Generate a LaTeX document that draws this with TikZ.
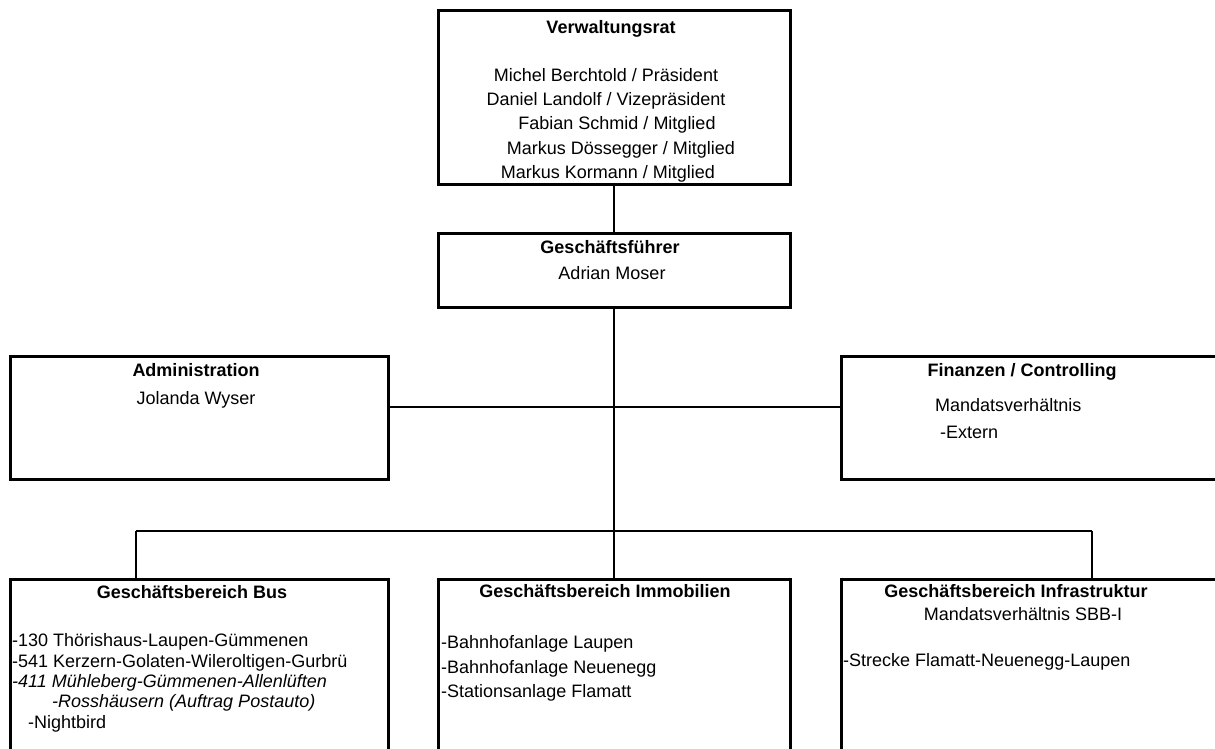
\documentclass[tikz,border=0pt]{standalone}
\usepackage{fontspec}
\setmainfont{Liberation Sans}
\begin{document}
\begin{tikzpicture}[x=1pt,y=-1pt,
  box/.style={draw=black,line width=3pt,rectangle,inner sep=0pt,minimum width=#1},
  box/.default=352pt,
  conn/.style={draw=black,line width=2pt},
  txt/.style={inner sep=0pt,anchor=base,font=\fontsize{18}{22}\selectfont},
  ltxt/.style={inner sep=0pt,anchor=base west,font=\fontsize{18}{22}\selectfont},
  btxt/.style={txt,font=\fontsize{18}{22}\selectfont\bfseries},
  itxt/.style={ltxt,font=\fontsize{18}{22}\selectfont\itshape}]
\useasboundingbox (0,0) rectangle (1215,749);
\clip (0,0) rectangle (1215,749);
\fill[white] (0,0) rectangle (1215,749);
% boxes
\node[box, minimum height=173pt] (VR) at (614,97.5) {};
\node[box, minimum height=74pt] (GF) at (614,270) {};
\node[box=378pt, minimum height=123pt] (Adm) at (199,417.5) {};
\node[box=400pt, minimum height=123pt] (Fin) at (1041,417.5) {};
\node[box=378pt, minimum height=190pt] (Bus) at (199,674) {};
\node[box, minimum height=190pt] (Imm) at (614,674) {};
\node[box=400pt, minimum height=190pt] (Inf) at (1041,674) {};
% connectors
\coordinate (midA) at (614,407);
\coordinate (bL) at (136,531);
\coordinate (bR) at (1092,531);
\draw[conn] (VR.south) -- (GF.north);
\draw[conn] (GF.south) -- (Imm.north);
\draw[conn] (Adm.east |- midA) -- (Fin.west |- midA);
\draw[conn] (bL) -- (bR);
\draw[conn] (bL) -- (bL |- Bus.north);
\draw[conn] (bR) -- (bR |- Inf.north);
% Verwaltungsrat
\node[btxt] (vrT) at (611,33.5) {Verwaltungsrat};
\node[txt] (vr1) at (606,81.5) {Michel Berchtold / Präsident};
\node[txt] (vr2) at (606,105.5) {Daniel Landolf / Vizepräsident};
\node[txt] (vr3) at (617,130) {Fabian Schmid / Mitglied};
\node[txt] (vr4) at (621,154) {Markus Dössegger / Mitglied};
\node[txt] (vr5) at (608,178.5) {Markus Kormann / Mitglied};
% GF
\node[btxt] (gfT) at (610,253.5) {Geschäftsführer};
\node[txt] (gf1) at (612,279.5) {Adrian Moser};
% Admin
\node[btxt] (admT) at (196,376.5) {Administration};
\node[txt] (adm1) at (196,404.5) {Jolanda Wyser};
% Finanzen
\node[btxt] (finT) at (1022,376.5) {Finanzen / Controlling};
\node[ltxt] (fin1) at (935,411.5) {Mandatsverhältnis};
\node[ltxt] (fin2) at (940,438.5) {-Extern};
% Bus
\node[btxt] (busT) at (192,598.5) {Geschäftsbereich Bus};
\node[ltxt] (bus1) at (12,646.5) {-130 Thörishaus-Laupen-Gümmenen};
\node[ltxt] (bus2) at (12,667.5) {-541 Kerzern-Golaten-Wileroltigen-Gurbrü};
\node[itxt] (bus3) at (12,687.5) {-411 Mühleberg-Gümmenen-Allenlüften};
\node[itxt] (bus4) at (52,707.5) {-Rosshäusern (Auftrag Postauto)};
\node[ltxt] (bus5) at (28,728.5) {-Nightbird};
% Immobilien
\node[btxt] (immT) at (605,597.5) {Geschäftsbereich Immobilien};
\node[ltxt] (imm1) at (441,648.5) {-Bahnhofanlage Laupen};
\node[ltxt] (imm2) at (441,673) {-Bahnhofanlage Neuenegg};
\node[ltxt] (imm3) at (441,697.5) {-Stationsanlage Flamatt};
% Infrastruktur
\node[btxt] (infT) at (1016,597.5) {Geschäftsbereich Infrastruktur};
\node[txt] (inf1) at (1023,620.5) {Mandatsverhältnis SBB-I};
\node[ltxt] (inf2) at (843,666.5) {-Strecke Flamatt-Neuenegg-Laupen};
\end{tikzpicture}
\end{document}
